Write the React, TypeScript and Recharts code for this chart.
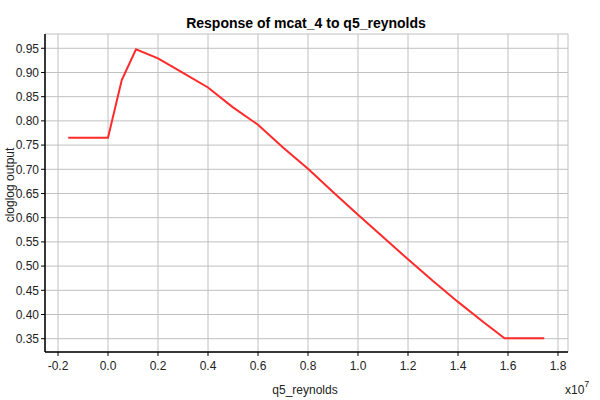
import React from "react";
import { LineChart, Line, XAxis, YAxis, CartesianGrid } from "recharts";

// x values in raw units (axis shows x10^7)
const xValues = [
  -1590000, 0, 550000, 1120000, 2000000, 3000000, 4000000, 5000000, 6000000,
  7000000, 8000000, 9000000, 10000000, 11000000, 12000000, 13000000,
  14000000, 15000000, 15860000, 17450000,
];
const yValues = [
  0.765, 0.765, 0.8845, 0.948, 0.929, 0.899, 0.869, 0.828, 0.792, 0.745,
  0.701, 0.653, 0.606, 0.56, 0.514, 0.469, 0.426, 0.385, 0.351, 0.351,
];
const xTicks = [
  -2000000, 0, 2000000, 4000000, 6000000, 8000000, 10000000, 12000000,
  14000000, 16000000, 18000000,
];
const yTicks = [
  0.35, 0.4, 0.45, 0.5, 0.55, 0.6, 0.65, 0.7, 0.75, 0.8, 0.85, 0.9, 0.95,
];
const xDomain = [-2520000, 18400000];
const yDomain = [0.3225, 0.9795];

const data = xValues.map((x, i) => ({ x, y: yValues[i] }));

const FONT = "'Liberation Sans', Arial, sans-serif";
const fmtX = (v: number) => (v / 1e7).toFixed(1);
const fmtY = (v: number) => v.toFixed(2);

export default function App() {
  return (
    <div
      style={{
        position: "absolute",
        left: 0,
        top: 0,
        width: 600,
        height: 400,
        background: "#fff",
        fontFamily: FONT,
        color: "#000",
      }}
    >
      <div
        style={{
          position: "absolute",
          left: 0,
          width: 612,
          top: 14,
          textAlign: "center",
          fontWeight: "bold",
          fontSize: 14,
          lineHeight: "18px",
        }}
      >
        Response of mcat_4 to q5_reynolds
      </div>
      <LineChart
        width={600}
        height={400}
        data={data}
        margin={{ top: 34, right: 32, left: 0, bottom: 0 }}
        style={{ fontFamily: FONT }}
      >
        <CartesianGrid stroke="#c0c0c0" strokeWidth={1} />
        <XAxis
          dataKey="x"
          type="number"
          domain={xDomain}
          ticks={xTicks}
          tickFormatter={fmtX}
          allowDataOverflow
          height={48}
          tickSize={4}
          tickMargin={5}
          axisLine={{ stroke: "#000", strokeWidth: 1.5 }}
          tickLine={{ stroke: "#000" }}
          tick={{ fill: "#222", fontSize: 12 }}
          interval={0}
        />
        <XAxis
          xAxisId="top"
          dataKey="x"
          type="number"
          orientation="top"
          domain={xDomain}
          ticks={xTicks}
          allowDataOverflow
          height={0}
          mirror
          tick={false}
          tickSize={4}
          axisLine={{ stroke: "#000", strokeWidth: 1.5 }}
          tickLine={{ stroke: "#000" }}
          interval={0}
        />
        <YAxis
          type="number"
          domain={yDomain}
          ticks={yTicks}
          tickFormatter={fmtY}
          allowDataOverflow
          width={45}
          tickSize={4}
          tickMargin={2}
          axisLine={{ stroke: "#000", strokeWidth: 1.5 }}
          tickLine={{ stroke: "#000" }}
          tick={{ fill: "#222", fontSize: 12 }}
          interval={0}
        />
        <YAxis
          yAxisId="right"
          type="number"
          orientation="right"
          domain={yDomain}
          ticks={yTicks}
          allowDataOverflow
          width={0}
          mirror
          tick={false}
          tickSize={4}
          axisLine={{ stroke: "#000", strokeWidth: 1.5 }}
          tickLine={{ stroke: "#000" }}
          interval={0}
        />
        <Line
          dataKey="y"
          type="linear"
          stroke="#ff2a2a"
          strokeWidth={2}
          dot={false}
          isAnimationActive={false}
        />
      </LineChart>
      <div
        style={{
          position: "absolute",
          left: 240,
          width: 130,
          top: 383,
          textAlign: "center",
          fontSize: 12,
          lineHeight: "14px",
          color: "#222",
        }}
      >
        q5_reynolds
      </div>
      <div
        style={{
          position: "absolute",
          left: 565,
          top: 383,
          fontSize: 12,
          lineHeight: "14px",
          color: "#222",
        }}
      >
        x10
        <span style={{ fontSize: 9, position: "relative", top: -7 }}>7</span>
      </div>
      <div
        style={{
          position: "absolute",
          left: 9.5,
          top: 185,
          transform: "translate(-50%, -50%) rotate(-90deg)",
          fontSize: 12,
          lineHeight: "14px",
          whiteSpace: "nowrap",
          color: "#222",
        }}
      >
        cloglog output
      </div>
    </div>
  );
}
